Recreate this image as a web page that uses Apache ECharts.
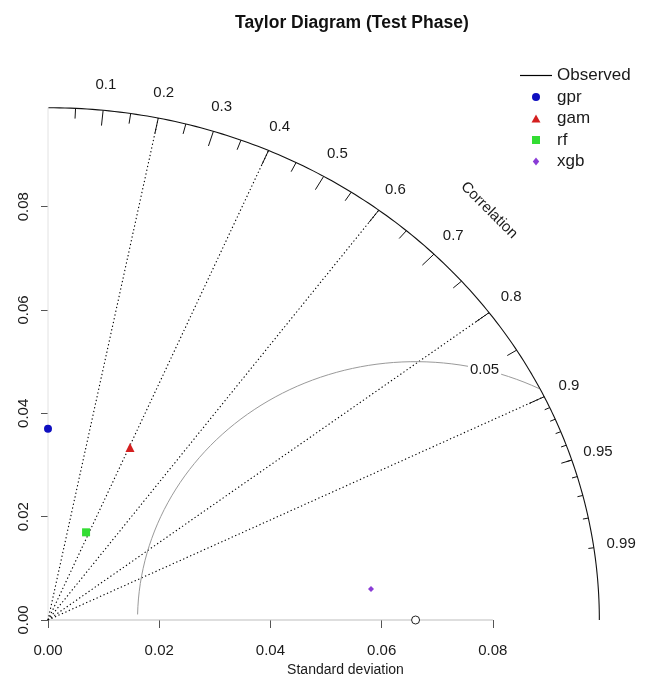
<!DOCTYPE html>
<html>
<head>
<meta charset="utf-8">
<script src="https://cdn.jsdelivr.net/npm/echarts@6/dist/echarts.min.js"></script>
<style>
  html, body { margin: 0; padding: 0; background: #ffffff; }
  #chart { width: 647px; height: 682px; }
</style>
</head>
<body>
<div id="chart"></div>
<script>
// Model skill summary against the observations (test phase)
const models = ['gpr', 'gam', 'rf', 'xgb'];
const sdValues = [0.0370, 0.0365, 0.0183, 0.0584];
const corValues = [0.0, 0.404, 0.374, 0.9947];
const refSd = 0.0661;

// Axis annotations
const sdTicks = [0, 0.02, 0.04, 0.06, 0.08];
const corrLabels = [0.1, 0.2, 0.3, 0.4, 0.5, 0.6, 0.7, 0.8, 0.9, 0.95, 0.99];
const corrLines = [0.2, 0.4, 0.6, 0.8, 0.9];
const bigTicks = [0.1, 0.2, 0.3, 0.4, 0.5, 0.6, 0.7, 0.8, 0.9];
const medTicks = [0.05, 0.15, 0.25, 0.35, 0.45, 0.55, 0.65, 0.75, 0.85, 0.95];
const smallTicks = [0.91, 0.92, 0.93, 0.94, 0.95, 0.96, 0.97, 0.98, 0.99];
const gammaLevels = [0.05];

// Styling
const FONT = '"Liberation Sans", Arial, Helvetica, sans-serif';
const markerSymbols = ['circle', 'triangle', 'rect', 'diamond'];
const legendIcons = [
  'circle',
  'path://M5,0L10,9L0,9Z',
  'path://M0,0H10V10H0Z',
  'path://M5,0L9,5L5,10L1,5Z'
];
const markerSizes = [8, 9, 8, 6];
const markerColors = ['#0f0fc0', '#d41f1f', '#33dd33', '#8a3cd6'];

const maxSd = 1.5 * Math.max(refSd, ...sdValues);
const XMAX = 0.107, YMAX = 0.108;

const toXY = (sd, c) => [sd * c, sd * Math.sqrt(Math.max(0, 1 - c * c))];

// Outer correlation arc
const arcPts = [];
for (let i = 0; i <= 157; i++) {
  const a = i * 0.01;
  arcPts.push([Math.cos(a) * maxSd, Math.sin(a) * maxSd]);
}

// Tick marks along the arc
const tickSegs = [];
const addTicks = (list, frac) => list.forEach(c => {
  const p = toXY(maxSd, c), q = toXY(maxSd * frac, c);
  tickSegs.push({ coords: [p, q] });
});
addTicks(bigTicks, 0.97);
addTicks(medTicks, 0.98);
addTicks(smallTicks, 0.99);

// Dotted correlation rays
const raySegs = corrLines.map(c => ({ coords: [[0, 0], toXY(maxSd, c)] }));

// Centred RMS difference contours around the reference point
const gammaCurves = gammaLevels.map(g => {
  const xs = [], ys = [];
  for (let i = 0; i < 105; i++) {
    const t = i * 0.03;
    xs.push(Math.cos(t) * g + refSd);
    ys.push(Math.sin(t) * g);
  }
  let start = 0;
  xs.forEach((x, i) => { if (x * x + ys[i] * ys[i] > maxSd * maxSd) start = i + 1; });
  let end = xs.findIndex(x => x < 0);
  end = end < 0 ? 104 : end - 1;
  const pts = [];
  for (let i = start; i <= end; i++) pts.push([xs[i], ys[i]]);
  return { g, pts, labelAt: [xs[44], ys[44]] };
});

const corrLabelData = corrLabels.map(c => {
  const p = toXY(maxSd * 1.05, c);
  return { value: p, name: String(c) };
});

const hiddenDot = { symbolSize: 1, itemStyle: { color: 'rgba(0,0,0,0)', opacity: 1 } };
const textStyle = { fontFamily: FONT, fontSize: 15, color: '#1a1a1a' };

const series = [
  {
    type: 'line', name: 'yaxisLine', data: [[0, 0], [0, maxSd]], showSymbol: false, silent: true,
    lineStyle: { color: '#e2e2e2', width: 1 }, clip: false, z: 1
  },
  {
    type: 'line', name: 'xaxisLine', data: [[0, 0], [sdTicks[sdTicks.length - 1], 0]], showSymbol: false, silent: true,
    lineStyle: { color: '#bdbdbd', width: 1 }, clip: false, z: 1
  },
  {
    type: 'lines', coordinateSystem: 'cartesian2d', data: raySegs, silent: true,
    lineStyle: { color: '#000', width: 1.1, type: [1.3, 2.5], opacity: 1 }, z: 2
  },
  ...gammaCurves.map(gc => ({
    type: 'line', name: 'gamma' + gc.g, data: gc.pts, showSymbol: false, silent: true, smooth: false,
    lineStyle: { color: '#9a9a9a', width: 1 }, clip: false, z: 2
  })),
  ...gammaCurves.map(gc => ({
    type: 'scatter', data: [gc.labelAt], ...hiddenDot, silent: true, clip: false, z: 3,
    label: {
      show: true, position: 'inside', formatter: String(gc.g), ...textStyle,
      backgroundColor: '#ffffff', padding: [1, 2]
    }
  })),
  {
    type: 'line', name: 'arc', data: arcPts, showSymbol: false, silent: true,
    lineStyle: { color: '#111', width: 1.1 }, clip: false, z: 4
  },
  {
    type: 'lines', coordinateSystem: 'cartesian2d', data: tickSegs, silent: true,
    lineStyle: { color: '#111', width: 1, opacity: 1 }, z: 4
  },
  {
    type: 'scatter', data: corrLabelData, ...hiddenDot, silent: true, clip: false, z: 5,
    label: { show: true, position: 'inside', formatter: p => p.name, ...textStyle }
  },
  {
    type: 'scatter', data: [[maxSd * 0.8, maxSd * 0.8]], ...hiddenDot, silent: true, clip: false, z: 5,
    label: { show: true, position: 'inside', formatter: 'Correlation', rotate: -45, ...textStyle }
  },
  {
    type: 'line', name: 'Observed', data: [], showSymbol: false, symbol: 'none',
    lineStyle: { color: '#000', width: 1.2 }, itemStyle: { color: '#000' }
  },
  {
    type: 'scatter', name: 'reference', data: [[refSd, 0]], symbol: 'circle', symbolSize: 8,
    itemStyle: { color: '#ffffff', borderColor: '#222', borderWidth: 1, opacity: 1 }, clip: false, z: 6
  },
  ...models.map((m, i) => ({
    type: 'scatter', name: m, data: [toXY(sdValues[i], corValues[i])],
    symbol: markerSymbols[i], symbolSize: markerSizes[i],
    itemStyle: { color: markerColors[i], opacity: 1 }, clip: false, z: 7
  }))
];

const chart = echarts.init(document.getElementById('chart'), null, { renderer: 'canvas' });
chart.setOption({
  animation: false,
  backgroundColor: '#ffffff',
  title: {
    text: 'Taylor Diagram (Test Phase)', left: 230, top: 9,
    textStyle: { fontFamily: FONT, fontSize: 17.5, fontWeight: 'bold', color: '#111' }
  },
  legend: {
    orient: 'vertical', left: 520, top: 66, padding: 0,
    itemWidth: 32, itemHeight: 8, itemGap: 2.5, selectedMode: false, symbolKeepAspect: true,
    textStyle: { fontFamily: FONT, fontSize: 17, color: '#1a1a1a', lineHeight: 19 },
    data: [
      { name: 'Observed', icon: 'path://M0,0H32V1.2H0Z' },
      ...models.map((m, i) => ({ name: m, icon: legendIcons[i] }))
    ]
  },
  grid: { left: 48, top: 62, width: 595, height: 563, containLabel: false },
  xAxis: {
    type: 'value', min: 0, max: XMAX,
    axisLine: { show: false }, splitLine: { show: false },
    axisTick: { show: true, customValues: sdTicks, length: 8, lineStyle: { color: '#555' } },
    axisLabel: { customValues: sdTicks, formatter: v => v.toFixed(2), margin: 23, ...textStyle },
    name: 'Standard deviation', nameLocation: 'middle', nameGap: 43,
    nameTextStyle: { ...textStyle, fontSize: 14 }
  },
  yAxis: {
    type: 'value', min: 0, max: YMAX,
    axisLine: { show: false }, splitLine: { show: false },
    axisTick: { show: true, customValues: sdTicks, length: 7, lineStyle: { color: '#555' } },
    axisLabel: { customValues: sdTicks, formatter: v => v.toFixed(2), rotate: 90, margin: 17, ...textStyle }
  },
  series
});
</script>
</body>
</html>
